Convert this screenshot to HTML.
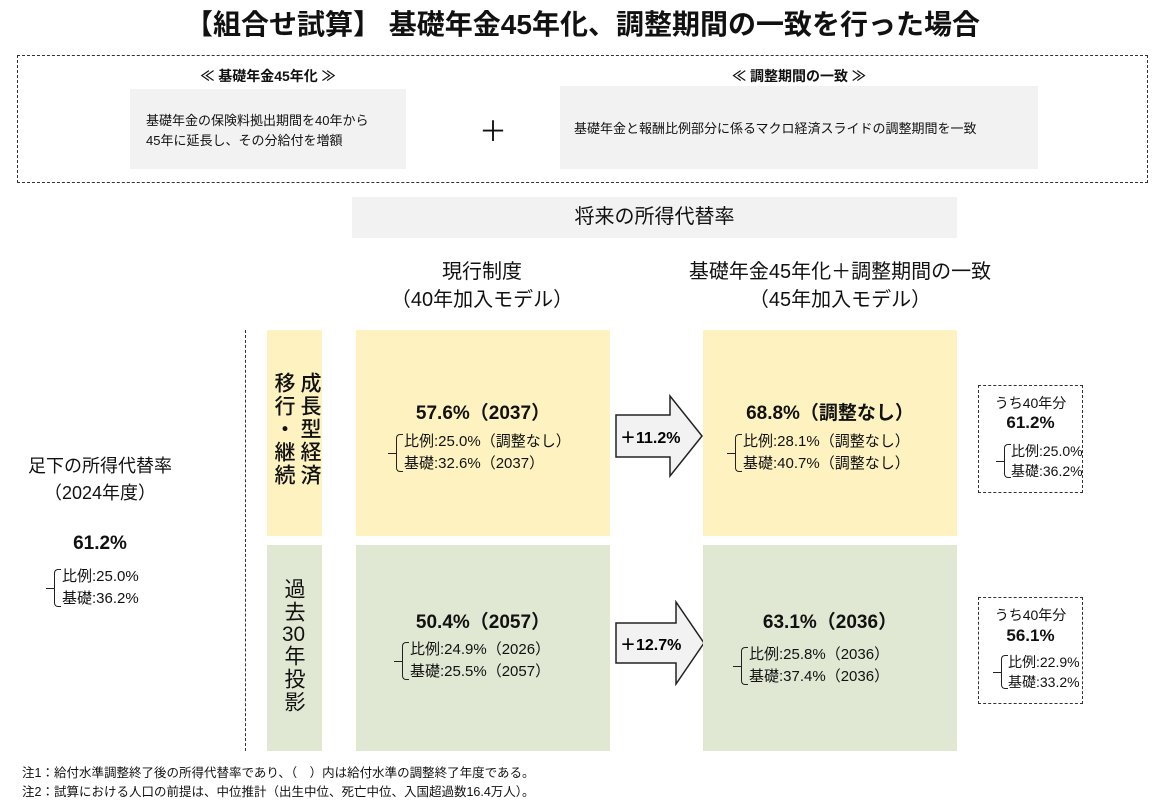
<!DOCTYPE html>
<html lang="ja"><head><meta charset="utf-8">
<style>
*{margin:0;padding:0;box-sizing:border-box}
body{width:1165px;height:807px;background:#fff;position:relative;overflow:hidden;font-family:"Liberation Sans","Noto Sans CJK JP",sans-serif;color:#111}
.a{position:absolute}
.c{text-align:center;white-space:nowrap}
.gray{background:#f2f2f2}
.yel{background:#fef3c0}
.grn{background:#e0e8d3}
.big{font-weight:bold;font-size:19px}
.bd{position:absolute;font-size:15px;line-height:22px;white-space:nowrap;padding-left:8px}
.bd::before{content:"";position:absolute;left:0;top:3px;bottom:3px;width:6px;border:1.5px solid #222;border-right:none;border-radius:4px 0 0 4px}
.bd::after{content:"";position:absolute;left:-8px;top:50%;width:8px;border-top:1.5px solid #222}
.dash{border:1.5px dashed #333}
.vt{writing-mode:vertical-rl;font-size:21px;letter-spacing:2px;line-height:26px}
.tcu{text-combine-upright:all}
</style></head><body>
<div class="a c" style="left:0;top:3px;width:1165px;font-size:28px;font-weight:bold">【組合せ試算】 基礎年金45年化、調整期間の一致を行った場合</div>

<div class="a" style="left:17px;top:55px;width:1131px;height:128px;border:1.5px dashed #333"></div>
<div class="a c" style="left:130px;top:66px;width:276px;font-size:14px;font-weight:bold">≪ 基礎年金45年化 ≫</div>
<div class="a gray" style="left:130px;top:89px;width:276px;height:80px;font-size:13px;line-height:20px;padding:22px 0 0 16px">基礎年金の保険料拠出期間を40年から<br>45年に延長し、その分給付を増額</div>
<div class="a c" style="left:478px;top:110px;width:30px;font-size:28px">＋</div>
<div class="a c" style="left:560px;top:66px;width:478px;font-size:14px;font-weight:bold">≪ 調整期間の一致 ≫</div>
<div class="a gray" style="left:560px;top:86px;width:478px;height:83px;font-size:13px;line-height:20px;padding:33px 0 0 14px">基礎年金と報酬比例部分に係るマクロ経済スライドの調整期間を一致</div>

<div class="a c gray" style="left:352px;top:197px;width:605px;height:41px;font-size:20px;line-height:41px">将来の所得代替率</div>
<div class="a c" style="left:352px;top:258px;width:260px;font-size:20px;line-height:28px">現行制度<br>（40年加入モデル）</div>
<div class="a c" style="left:640px;top:258px;width:400px;font-size:20px;line-height:28px">基礎年金45年化＋調整期間の一致<br>（45年加入モデル）</div>

<div class="a" style="left:245px;top:330px;height:421px;border-left:1.5px dashed #333"></div>

<div class="a c" style="left:10px;top:453px;width:180px;font-size:18px;line-height:27px">足下の所得代替率<br>（2024年度）</div>
<div class="a c big" style="left:60px;top:533px;width:80px">61.2%</div>
<div class="bd" style="left:54px;top:566px">比例:25.0%<br>基礎:36.2%</div>

<div class="a yel" style="left:267px;top:330px;width:55px;height:206px"></div>
<div class="a vt" style="left:270px;top:372px;font-weight:500">成長型経済<br>移行・継続</div>
<div class="a grn" style="left:267px;top:545px;width:55px;height:206px"></div>
<div class="a vt" style="left:280px;top:578px">過去<span class="tcu">30</span>年投影</div>

<div class="a yel" style="left:356px;top:330px;width:254px;height:206px"></div>
<div class="a c big" style="left:356px;top:398px;width:254px">57.6%（2037）</div>
<div class="bd" style="left:396px;top:431px">比例:25.0%（調整なし）<br>基礎:32.6%（2037）</div>

<div class="a grn" style="left:356px;top:545px;width:254px;height:206px"></div>
<div class="a c big" style="left:356px;top:607px;width:254px">50.4%（2057）</div>
<div class="bd" style="left:402px;top:639px">比例:24.9%（2026）<br>基礎:25.5%（2057）</div>

<svg class="a" style="left:614px;top:394px" width="90" height="84"><polygon points="2,21 56,21 56,2 88,42 56,82 56,63 2,63" fill="#f2f2f2" stroke="#222" stroke-width="1.5"/><text x="6" y="49" font-size="16" font-weight="bold" font-family="Liberation Sans,Noto Sans CJK JP,sans-serif">＋11.2%</text></svg>
<svg class="a" style="left:614px;top:600px" width="92" height="86"><polygon points="2,23 62,23 62,2 90,43 62,84 62,63 2,63" fill="#f2f2f2" stroke="#222" stroke-width="1.5"/><text x="6" y="50" font-size="16" font-weight="bold" font-family="Liberation Sans,Noto Sans CJK JP,sans-serif">＋12.7%</text></svg>

<div class="a yel" style="left:703px;top:330px;width:254px;height:206px"></div>
<div class="a c big" style="left:703px;top:398px;width:254px">68.8%（調整なし）</div>
<div class="bd" style="left:735px;top:431px">比例:28.1%（調整なし）<br>基礎:40.7%（調整なし）</div>

<div class="a grn" style="left:703px;top:545px;width:254px;height:206px"></div>
<div class="a c big" style="left:703px;top:607px;width:254px">63.1%（2036）</div>
<div class="bd" style="left:741px;top:644px">比例:25.8%（2036）<br>基礎:37.4%（2036）</div>

<div class="a dash" style="left:978px;top:385px;width:105px;height:108px"></div>
<div class="a c" style="left:978px;top:393px;width:105px;font-size:14px">うち40年分</div>
<div class="a c" style="left:978px;top:413px;width:105px;font-size:17px;font-weight:bold">61.2%</div>
<div class="bd" style="left:1004px;top:441px;font-size:14px;line-height:20px;padding-left:7px">比例:25.0%<br>基礎:36.2%</div>

<div class="a dash" style="left:978px;top:597px;width:105px;height:107px"></div>
<div class="a c" style="left:978px;top:605px;width:105px;font-size:14px">うち40年分</div>
<div class="a c" style="left:978px;top:626px;width:105px;font-size:17px;font-weight:bold">56.1%</div>
<div class="bd" style="left:1001px;top:652px;font-size:14px;line-height:20px;padding-left:7px">比例:22.9%<br>基礎:33.2%</div>

<div class="a" style="left:22px;top:764px;font-size:12.5px;line-height:19px;white-space:nowrap">注1：給付水準調整終了後の所得代替率であり、（　）内は給付水準の調整終了年度である。<br>注2：試算における人口の前提は、中位推計（出生中位、死亡中位、入国超過数16.4万人）。</div>
</body></html>
